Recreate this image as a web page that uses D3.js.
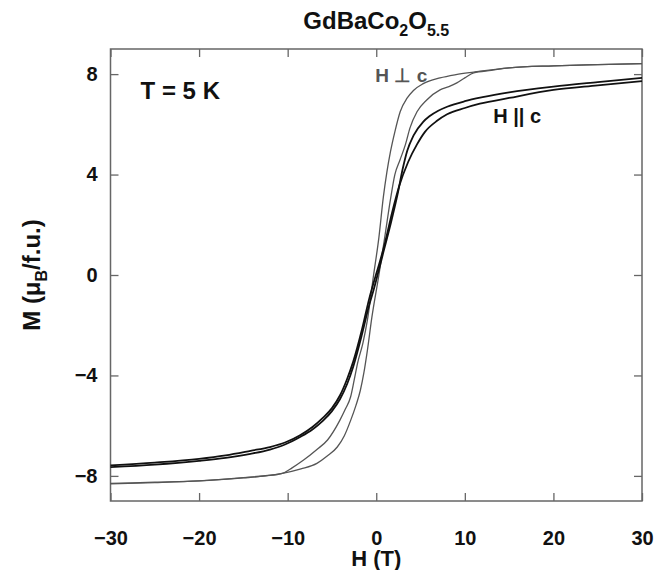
<!DOCTYPE html>
<html>
<head>
<meta charset="utf-8">
<script src="https://cdn.jsdelivr.net/npm/d3@7"></script>
<style>
  body { margin: 0; background: #fff; }
  svg text { font-family: 'Liberation Sans', Arial, Helvetica, sans-serif; font-weight: bold; }
</style>
</head>
<body>
<div id="chart"></div>
<script>
// axis ticks
const fieldTicks = [-30, -20, -10, 0, 10, 20, 30]
const momentTicks = [-8, -4, 0, 4, 8]

// H || c, field sweeping down (+30 -> -30)
const parDownH = [30, 25, 20, 15, 12, 10, 8, 7, 6, 5.3, 4.2, 3.5, 3.0, 2.4, 1.6, 0.8, 0, -0.3, -0.8, -1.6, -2.6, -3.3, -4.1, -5, -6, -7.2, -8.6, -10.3, -12, -14.2, -17, -20, -25, -30]
const parDownM = [7.85, 7.68, 7.5, 7.27, 7.08, 6.92, 6.7, 6.54, 6.32, 6.1, 5.55, 4.95, 4.25, 3.2, 2.0, 0.9, -0.2, -0.6, -1.2, -2.35, -3.65, -4.35, -4.95, -5.42, -5.8, -6.15, -6.45, -6.75, -6.95, -7.12, -7.28, -7.4, -7.55, -7.65]

// H || c, field sweeping up (-30 -> +30)
const parUpH = [-30, -25, -20, -17, -14.2, -12, -10.3, -8.6, -7.2, -6, -5, -4.1, -3.3, -2.6, -1.6, -0.8, 0, 0.3, 1.0, 1.8, 2.6, 3.6, 4.6, 5.5, 6.9, 8, 10, 11.7, 15, 20, 25, 30]
const parUpM = [-7.58, -7.47, -7.32, -7.18, -7.0, -6.85, -6.67, -6.38, -6.05, -5.68, -5.3, -4.8, -4.15, -3.45, -2.15, -0.95, 0.05, 0.4, 1.3, 2.5, 3.55, 4.5, 5.2, 5.7, 6.15, 6.4, 6.65, 6.82, 7.05, 7.37, 7.55, 7.72]

// H perp c, field sweeping down
const perpDownH = [30, 25, 20, 15, 11, 9, 7.2, 5.3, 4.2, 3.5, 2.7, 2.1, 1.6, 1.2, 0.8, 0.3, -0.3, -1.0, -1.5, -2.1, -2.5, -2.9, -3.5, -4.1, -5.5, -6.7, -8.2, -9.5, -10.6, -12.5, -15, -20, -25, -30]
const perpDownM = [8.42, 8.38, 8.33, 8.25, 8.08, 7.98, 7.85, 7.62, 7.35, 7.05, 6.5, 5.7, 4.9, 4.1, 3.1, 1.5, 0, -1.8, -2.7, -3.5, -4.2, -4.86, -5.35, -5.78, -6.57, -6.95, -7.37, -7.68, -7.9, -8.0, -8.08, -8.2, -8.25, -8.3]

// H perp c, field sweeping up
const perpUpH = [-30, -25, -20, -15, -10.6, -8.5, -6.7, -5.5, -4.4, -3.6, -2.9, -2.3, -1.8, -1.4, -1.0, -0.5, 0.3, 1.0, 1.6, 2.1, 2.7, 3.3, 3.8, 4.6, 5.7, 7.2, 8.2, 9.1, 10.0, 11.0, 13, 15, 20, 25, 30]
const perpUpM = [-8.32, -8.27, -8.2, -8.07, -7.9, -7.72, -7.5, -7.2, -6.85, -6.4, -5.8, -5.2, -4.6, -3.9, -3.0, -1.7, 0, 1.6, 3.0, 4.0, 4.6, 5.2, 5.85, 6.5, 6.97, 7.37, 7.5, 7.65, 7.85, 8.05, 8.15, 8.25, 8.33, 8.38, 8.42]

const W = 665
const H = 570
const margin = { top: 49, right: 23, bottom: 69, left: 110.5 }
const width = W - margin.left - margin.right
const height = H - margin.top - margin.bottom

const frameColor = '#666'
const perpColor = '#555'
const parColor = '#111'

const svg = d3.select('#chart').append('svg')
  .attr('width', W)
  .attr('height', H)

const g = svg.append('g')
  .attr('transform', `translate(${margin.left}, ${margin.top})`)

const x = d3.scaleLinear().domain([-30, 30]).range([0, width])
const y = d3.scaleLinear().domain([-9, 9]).range([height, 0])

// frame
g.append('rect')
  .attr('width', width)
  .attr('height', height)
  .attr('fill', 'none')
  .attr('stroke', frameColor)
  .attr('stroke-width', 1.5)

// axes, ticks pointing inward
const xBottom = g.append('g')
  .attr('transform', `translate(0, ${height})`)
  .call(d3.axisBottom(x).tickValues(fieldTicks).tickSizeInner(-8).tickSizeOuter(0).tickPadding(30))
const xTop = g.append('g')
  .call(d3.axisTop(x).tickValues(fieldTicks).tickSizeInner(-8).tickSizeOuter(0).tickFormat(''))
const yLeft = g.append('g')
  .call(d3.axisLeft(y).tickValues(momentTicks).tickSizeInner(-8).tickSizeOuter(0).tickPadding(13))
const yRight = g.append('g')
  .attr('transform', `translate(${width}, 0)`)
  .call(d3.axisRight(y).tickValues(momentTicks).tickSizeInner(-8).tickSizeOuter(0).tickFormat(''))

;[xBottom, xTop, yLeft, yRight].forEach((a) => {
  a.select('.domain').remove()
  a.selectAll('.tick line').attr('stroke', frameColor).attr('stroke-width', 1.3)
  a.selectAll('.tick text')
    .attr('fill', '#111')
    .style('font-size', '20px')
    .style('font-family', "'Liberation Sans', Arial, sans-serif")
    .style('font-weight', 'bold')
})

// curves
const line = d3.line()
  .x((d) => x(d[0]))
  .y((d) => y(d[1]))
  .curve(d3.curveMonotoneX)

const branch = (hs, ms) => d3.zip(hs, ms).sort((a, b) => a[0] - b[0])

const curves = [
  { pts: branch(perpDownH, perpDownM), color: perpColor, w: 1.3 },
  { pts: branch(perpUpH, perpUpM), color: perpColor, w: 1.3 },
  { pts: branch(parDownH, parDownM), color: parColor, w: 1.8 },
  { pts: branch(parUpH, parUpM), color: parColor, w: 1.8 }
]

g.append('g').selectAll('path')
  .data(curves)
  .enter().append('path')
  .attr('d', (d) => line(d.pts))
  .attr('fill', 'none')
  .attr('stroke', (d) => d.color)
  .attr('stroke-width', (d) => d.w)

// title
const title = svg.append('text')
  .attr('x', margin.left + width / 2)
  .attr('y', 29)
  .attr('text-anchor', 'middle')
  .attr('fill', '#111')
  .style('font-size', '24px')
title.append('tspan').text('GdBaCo')
title.append('tspan').attr('dy', 7).style('font-size', '16px').text('2')
title.append('tspan').attr('dy', -7).text('O')
title.append('tspan').attr('dy', 7).style('font-size', '16px').text('5.5')

// axis labels
svg.append('text')
  .attr('x', margin.left + width / 2)
  .attr('y', 566)
  .attr('text-anchor', 'middle')
  .attr('fill', '#111')
  .style('font-size', '22px')
  .text('H (T)')

const yLab = svg.append('text')
  .attr('transform', `translate(40, ${margin.top + height / 2}) rotate(-90)`)
  .attr('text-anchor', 'middle')
  .attr('fill', '#111')
  .style('font-size', '24px')
yLab.append('tspan').text('M (\u03BC')
yLab.append('tspan').attr('dy', 7).style('font-size', '16px').text('B')
yLab.append('tspan').attr('dy', -7).text('/f.u.)')

// annotations
g.append('text')
  .attr('x', x(-26.6))
  .attr('y', y(7.0))
  .attr('fill', '#111')
  .style('font-size', '24px')
  .text('T = 5 K')

g.append('text')
  .attr('x', x(-0.1))
  .attr('y', y(7.7))
  .attr('fill', perpColor)
  .style('font-size', '19px')
  .text('H \u22A5 c')

g.append('text')
  .attr('x', x(13.2))
  .attr('y', y(6.05))
  .attr('fill', '#111')
  .style('font-size', '20px')
  .text('H || c')
</script>
</body>
</html>
